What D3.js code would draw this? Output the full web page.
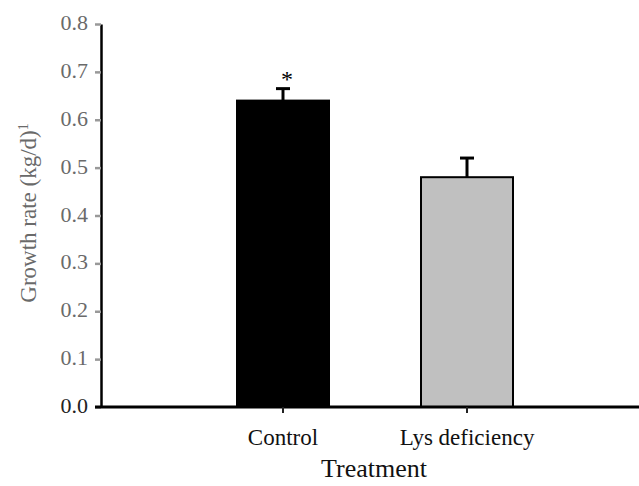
<!DOCTYPE html>
<html>
<head>
<meta charset="utf-8">
<script src="https://cdn.jsdelivr.net/npm/d3@7"></script>
<style>
  body { margin: 0; background: #fff; }
</style>
</head>
<body>
<svg id="chart" width="639" height="486"></svg>
<script>
/************
** data
*************/
var categories = ["Control", "Lys deficiency"];
var growthRate = [0.64, 0.48];
var errorUp = [0.025, 0.04];
var marks = ["*", ""];
var yTicks = [0, 0.1, 0.2, 0.3, 0.4, 0.5, 0.6, 0.7, 0.8];

/************
** colors
*************/
var barFill = ["#000000", "#c0c0c0"];
var tickGrey = "#6a6a6a";
var serif = "'Liberation Serif', 'DejaVu Serif', serif";

var svg = d3.select("#chart");

var y = d3.scaleLinear().domain([0, 0.8]).range([407, 24]);
var x = d3.scaleBand().domain(categories)
    .range([191, 559]).paddingInner(0.5).paddingOuter(0.25);

// y axis
var yAxis = svg.append("g")
    .attr("transform", "translate(101,0)")
    .call(d3.axisLeft(y).tickValues(yTicks).tickFormat(d3.format(".1f")).tickSize(6).tickSizeOuter(0))
    .attr("font-family", serif);
yAxis.select(".domain").attr("stroke", "#000").attr("stroke-width", 2.5);
yAxis.selectAll(".tick line").attr("stroke", "#999").attr("stroke-width", 2.5);
yAxis.selectAll(".tick text")
    .attr("font-size", 22)
    .attr("x", -13)
    .attr("dy", "0.25em")
    .attr("fill", function(d){ return d === 0 ? "#222" : tickGrey; });

// bars
svg.selectAll("rect.bar").data(categories)
  .enter().append("rect")
    .attr("class", "bar")
    .attr("x", function(d){ return x(d); })
    .attr("width", x.bandwidth())
    .attr("y", function(d, i){ return y(growthRate[i]); })
    .attr("height", function(d, i){ return y(0) - y(growthRate[i]); })
    .attr("fill", function(d, i){ return barFill[i]; })
    .attr("stroke", "#000")
    .attr("stroke-width", 2);

// error bars (upper only)
var err = svg.selectAll("g.err").data(categories)
  .enter().append("g").attr("class", "err");
err.append("line")
    .attr("x1", function(d){ return x(d) + x.bandwidth() / 2; })
    .attr("x2", function(d){ return x(d) + x.bandwidth() / 2; })
    .attr("y1", function(d, i){ return y(growthRate[i]); })
    .attr("y2", function(d, i){ return y(growthRate[i] + errorUp[i]); })
    .attr("stroke", "#000").attr("stroke-width", 3);
err.append("line")
    .attr("x1", function(d){ return x(d) + x.bandwidth() / 2 - 7; })
    .attr("x2", function(d){ return x(d) + x.bandwidth() / 2 + 7; })
    .attr("y1", function(d, i){ return y(growthRate[i] + errorUp[i]); })
    .attr("y2", function(d, i){ return y(growthRate[i] + errorUp[i]); })
    .attr("stroke", "#000").attr("stroke-width", 3);
err.append("text")
    .attr("x", function(d){ return x(d) + x.bandwidth() / 2 + 4; })
    .attr("y", function(d, i){ return y(growthRate[i] + errorUp[i]) - 2; })
    .attr("text-anchor", "middle")
    .attr("font-family", serif)
    .attr("font-size", 24)
    .text(function(d, i){ return marks[i]; });

// x axis
var xAxis = svg.append("g")
    .attr("transform", "translate(0,407)")
    .call(d3.axisBottom(x).tickSize(6).tickSizeOuter(0))
    .attr("font-family", serif);
xAxis.select(".domain").attr("d", "M95,0H639").attr("stroke", "#000").attr("stroke-width", 3);
xAxis.selectAll(".tick line").attr("stroke", "#222").attr("stroke-width", 2);
xAxis.selectAll(".tick text")
    .attr("font-size", 23)
    .attr("y", 38)
    .attr("dy", 0)
    .attr("fill", "#111");

// titles
svg.append("text")
    .attr("x", 374).attr("y", 477)
    .attr("text-anchor", "middle")
    .attr("font-family", serif)
    .attr("font-size", 26)
    .attr("fill", "#111")
    .text("Treatment");

svg.append("text")
    .attr("transform", "translate(36,213) rotate(-90)")
    .attr("text-anchor", "middle")
    .attr("font-family", serif)
    .attr("font-size", 23)
    .attr("fill", tickGrey)
    .html("Growth rate (kg/d)<tspan dy='-8' font-size='14'>1</tspan>");
</script>
</body>
</html>
